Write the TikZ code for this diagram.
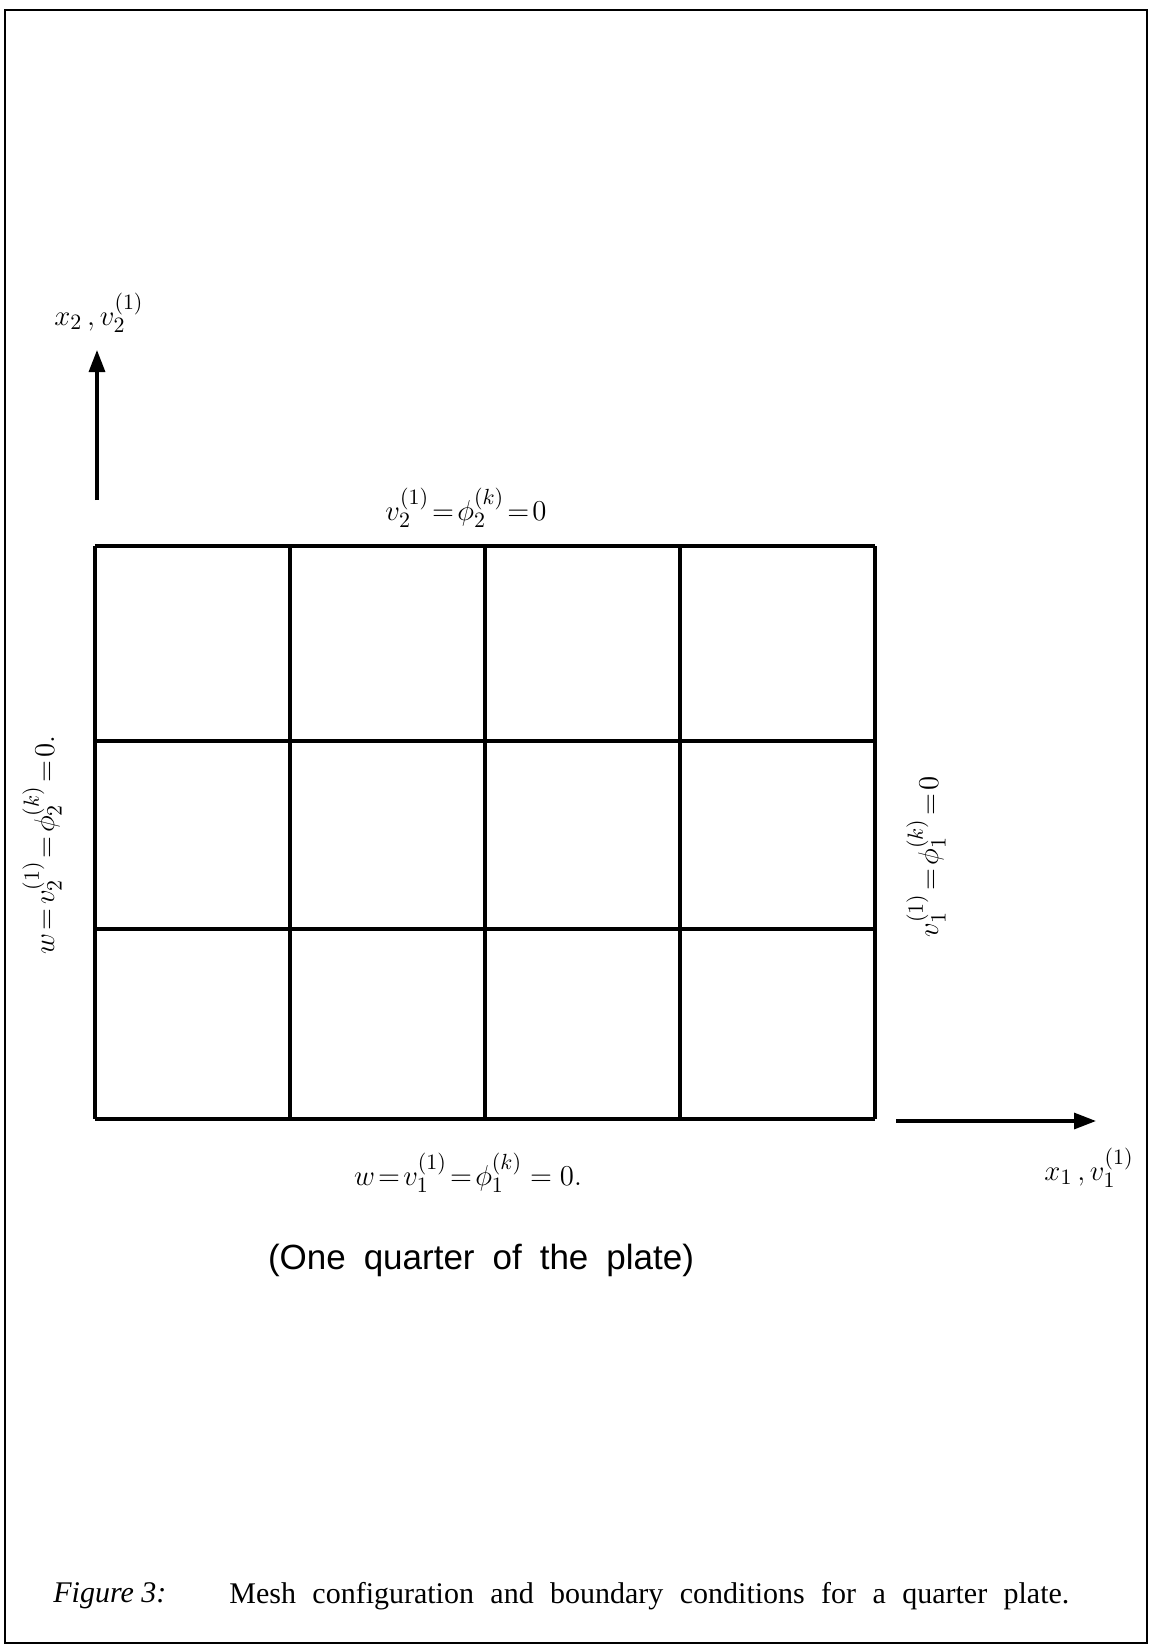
\documentclass[tikz,border=0pt]{standalone}
\usepackage{fontspec}
\setmainfont{Liberation Serif}
\setsansfont{Liberation Sans}
\usepackage{tikz}
\usetikzlibrary{positioning, arrows.meta, calc}

\begin{document}
\begin{tikzpicture}[x=0.5pt,y=-0.5pt]
    \tikzset{cond/.style={inner sep=0pt,font=\fontsize{15.5}{18}\selectfont}, axis/.style={-{Triangle[length=11pt,width=8pt]},line width=1.6pt}, gridline/.style={line width=1.7pt}}
    \useasboundingbox (0,0) rectangle (1151,1649);
    \draw[line width=1.2pt] (5,10) rectangle (1147,1643);
    % mesh of the quarter plate
    \foreach \x in {95,290,485,680,875} \draw[gridline] (\x,546) -- (\x,1119);
    \foreach \y in {546,741,929,1119} \draw[gridline] (95,\y) -- (875,\y);
    % axes
    \coordinate (o2) at (97,500); \coordinate (e2) at (97,350);
    \coordinate (o1) at (896,1121); \coordinate (e1) at (1096,1121);
    \draw[axis] (o2) -- (e2); \draw[axis] (o1) -- (e1);
    \node[cond] (x2lab) at (99,313) {$x_2\,, v_2^{(1)}$};
    \node[cond] (x1lab) at (1089,1168) {$x_1\,, v_1^{(1)}$};
    % boundary conditions
    \node[cond] (bctop) at (466,508) {$v_2^{(1)}\!=\!\phi_2^{(k)}\!=\!0$};
    \node[cond] (bcbot) at (468,1173) {$w\!=\!v_1^{(1)}\!=\!\phi_1^{(k)} = 0.$};
    \node[cond,rotate=90] (bclft) at (42,845) {$w\!=\!v_2^{(1)}\!=\!\phi_2^{(k)}\!=\!0.$};
    \node[cond,rotate=90] (bcrgt) at (926,857) {$v_1^{(1)}\!=\!\phi_1^{(k)}\!=\!0$};
    \node[font=\sffamily\fontsize{17.5}{20}\selectfont,inner sep=0pt] (quarter) at (481,1260) {\makebox[213pt][s]{(One quarter of the plate)}};
    % caption
    \node[anchor=west,inner sep=0pt,font=\fontsize{15}{18}\selectfont] (fig) at (53,1596) {\textit{Figure 3:}};
    \node[anchor=west,inner sep=0pt,font=\fontsize{15}{18}\selectfont] (capt) at (229,1596) {\makebox[420pt][s]{Mesh configuration and boundary conditions for a quarter plate.}};
\end{tikzpicture}
\end{document}
